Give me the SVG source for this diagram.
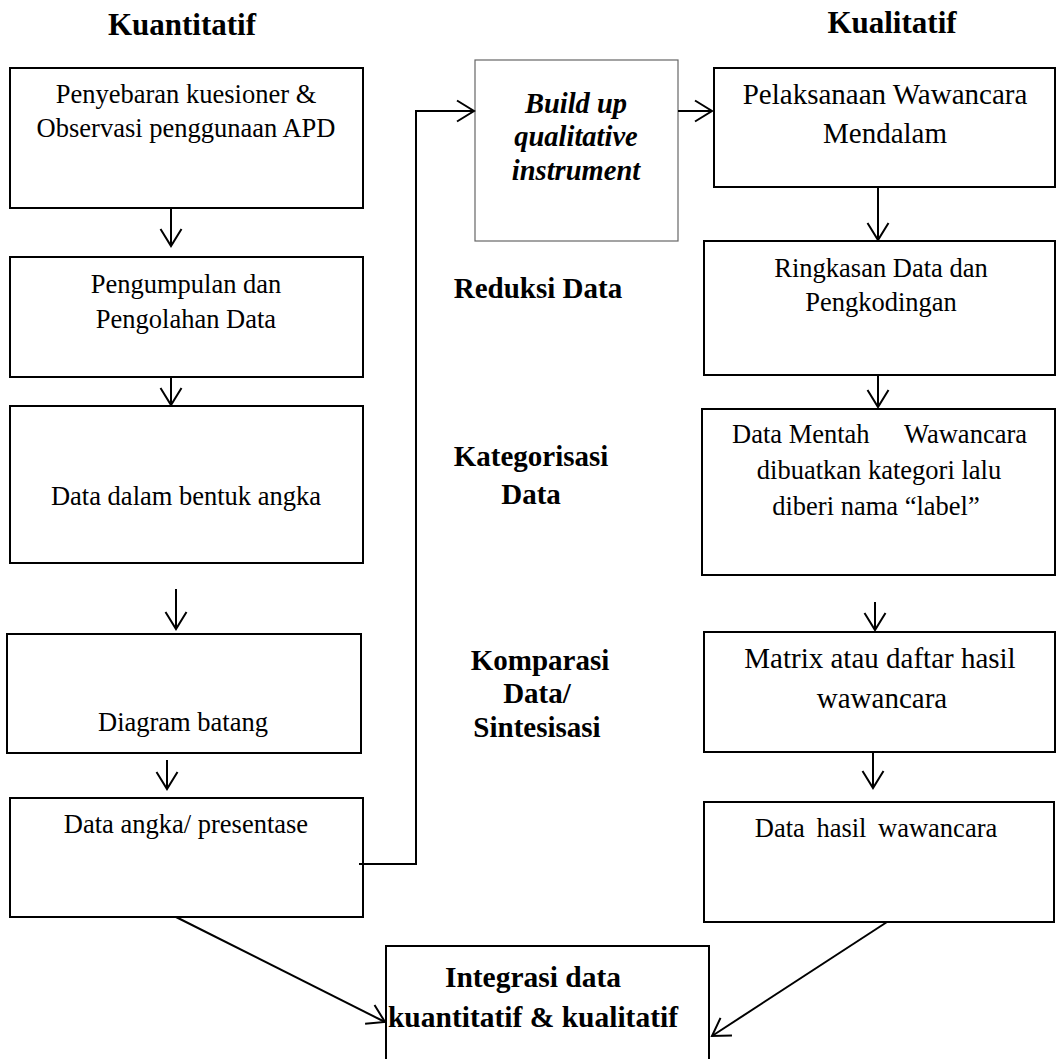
<svg xmlns="http://www.w3.org/2000/svg" width="1059" height="1059" viewBox="0 0 1059 1059">
<style>
text{font-family:"Liberation Serif","Times New Roman",serif;fill:#000}
.t{font-size:26.5px;text-anchor:middle}
.tl{font-size:29px;text-anchor:middle}
.h{font-size:31px;font-weight:bold;text-anchor:middle}
.m{font-size:29px;font-weight:bold;text-anchor:middle}
.bi{font-size:28.5px;font-weight:bold;font-style:italic;text-anchor:middle}
.box{fill:#fff;stroke:#000;stroke-width:2}
.thin{fill:#fff;stroke:#666;stroke-width:1.2}
.c{fill:none;stroke:#000;stroke-width:2}
</style>
<defs>
<marker id="ah" markerUnits="userSpaceOnUse" markerWidth="40" markerHeight="40" viewBox="-20 -20 40 40" refX="0" refY="0" orient="auto" overflow="visible">
<path d="M -17 -10.5 L 0 0 L -17 10.5" fill="none" stroke="#000" stroke-width="2"/>
</marker>
</defs>
<text class="h" x="182" y="35">Kuantitatif</text>
<text class="h" x="892" y="33">Kualitatif</text>
<g id="n1"><rect class="box" x="10" y="68" width="353" height="140"/>
<text class="t" x="186" y="103">Penyebaran kuesioner &amp;</text>
<text class="t" x="186" y="137">Observasi penggunaan APD</text></g>
<g id="n2"><rect class="box" x="10" y="257" width="353" height="120"/>
<text class="t" x="186" y="293">Pengumpulan dan</text>
<text class="t" x="186" y="328">Pengolahan Data</text></g>
<g id="n3"><rect class="box" x="10" y="406" width="353" height="157"/>
<text class="t" x="186" y="505">Data dalam bentuk angka</text></g>
<g id="n4"><rect class="box" x="7" y="634" width="354" height="119"/>
<text class="t" x="183" y="731">Diagram batang</text></g>
<g id="n5"><rect class="box" x="10" y="798" width="353" height="119"/>
<text class="t" x="186" y="833">Data angka/ presentase</text></g>
<g id="n6"><rect class="thin" x="475" y="60" width="203" height="181"/>
<text class="bi" x="576" y="113">Build up</text>
<text class="bi" x="576" y="146">qualitative</text>
<text class="bi" x="576" y="180">instrument</text></g>
<g id="n7"><rect class="box" x="714" y="68" width="341" height="119"/>
<text class="tl" x="885" y="104">Pelaksanaan Wawancara</text>
<text class="tl" x="885" y="143">Mendalam</text></g>
<g id="n8"><rect class="box" x="704" y="241" width="351" height="134"/>
<text class="t" x="881" y="277">Ringkasan Data dan</text>
<text class="t" x="881" y="311">Pengkodingan</text></g>
<g id="n9"><rect class="box" x="702" y="409" width="353" height="166"/>
<text class="t" x="732" y="443" style="text-anchor:start">Data Mentah</text>
<text class="t" x="1027" y="443" style="text-anchor:end">Wawancara</text>
<text class="t" x="879" y="479">dibuatkan kategori lalu</text>
<text class="t" x="876" y="515">diberi nama “label”</text></g>
<g id="n10"><rect class="box" x="704" y="632" width="351" height="120"/>
<text class="tl" x="880" y="668">Matrix atau daftar hasil</text>
<text class="tl" x="882" y="708">wawancara</text></g>
<g id="n11"><rect class="box" x="704" y="802" width="350" height="120"/>
<text class="t" x="876" y="837" style="word-spacing:5px">Data hasil wawancara</text></g>
<g id="n12"><rect class="box" x="386" y="946" width="323" height="130"/>
<text class="m" x="533" y="987" style="font-size:29.5px">Integrasi data</text>
<text class="m" x="533" y="1027" style="font-size:29.5px">kuantitatif &amp; kualitatif</text></g>
<g id="labels">
<text class="m" x="538" y="298">Reduksi Data</text>
<text class="m" x="531" y="466">Kategorisasi</text>
<text class="m" x="531" y="504">Data</text>
<text class="m" x="540" y="670">Komparasi</text>
<text class="m" x="537" y="703">Data/</text>
<text class="m" x="537" y="737">Sintesisasi</text>
</g>
<g id="connectors">
<line class="c" x1="171" y1="208" x2="171" y2="246" marker-end="url(#ah)"/>
<line class="c" x1="171" y1="377" x2="171" y2="405" marker-end="url(#ah)"/>
<line class="c" x1="176" y1="589" x2="176" y2="629" marker-end="url(#ah)"/>
<line class="c" x1="167" y1="760" x2="167" y2="789" marker-end="url(#ah)"/>
<polyline class="c" points="359,864 416,864 416,111 474,111" marker-end="url(#ah)"/>
<line class="c" x1="678" y1="111" x2="712" y2="111" marker-end="url(#ah)"/>
<line class="c" x1="878" y1="187" x2="878" y2="240" marker-end="url(#ah)"/>
<line class="c" x1="878" y1="375" x2="878" y2="407" marker-end="url(#ah)"/>
<line class="c" x1="875" y1="602" x2="875" y2="630" marker-end="url(#ah)"/>
<line class="c" x1="873" y1="752" x2="873" y2="788" marker-end="url(#ah)"/>
<line class="c" x1="176" y1="917" x2="385" y2="1022" marker-end="url(#ah)"/>
<line class="c" x1="887" y1="922" x2="712" y2="1036" marker-end="url(#ah)"/>
</g>
</svg>
